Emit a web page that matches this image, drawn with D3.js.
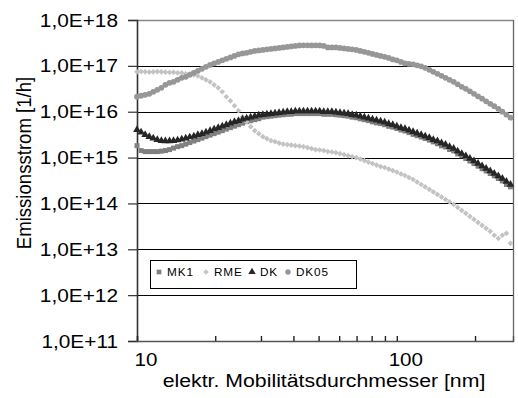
<!DOCTYPE html>
<html><head><meta charset="utf-8">
<script src="https://cdn.jsdelivr.net/npm/d3@7"></script>
<style>body{margin:0;background:#fff} svg{display:block}</style>
</head><body><svg id="c" width="518" height="398"></svg>
<script>
// Mobility diameters (nm)
const diameters = [10.00,10.37,10.75,11.15,11.55,11.97,12.41,12.86,13.34,13.82,14.33,14.86,15.40,15.96,16.55,17.15,17.78,18.43,19.11,19.81,
20.54,21.29,22.07,22.88,23.71,24.58,25.48,26.42,27.38,28.39,29.43,30.51,31.62,32.78,33.98,35.23,36.52,37.86,39.24,40.68,
42.17,43.71,45.32,46.98,48.70,50.48,52.33,54.25,56.23,58.29,60.43,62.65,64.94,67.32,69.78,72.34,74.99,77.74,80.58,83.54,
86.60,89.77,93.06,96.47,100.0,103.7,107.5,111.4,115.5,119.7,124.1,128.6,133.4,138.2,143.3,148.6,154.0,159.6,165.5,171.5,
177.8,184.3,191.1,198.1,205.4,212.9,220.7,228.8,237.1,245.8,254.8,264.2,273.8];

const mk1 = [1.82e15,1.42e15,1.35e15,1.35e15,1.35e15,1.35e15,1.38e15,1.42e15,1.49e15,1.61e15,1.73e15,1.82e15,1.96e15,2.12e15,2.29e15,2.46e15,2.65e15,2.86e15,3.08e15,3.32e15,
3.58e15,3.86e15,4.17e15,4.49e15,4.84e15,5.21e15,5.62e15,6.07e15,6.37e15,6.70e15,7.04e15,7.6e15,7.8e15,8.0e15,8.2e15,8.4e15,8.6e15,8.8e15,8.8e15,9.1e15,
9.1e15,9.1e15,9.1e15,9.1e15,9.1e15,9.1e15,8.8e15,8.8e15,8.8e15,8.6e15,8.4e15,8.2e15,8.0e15,7.6e15,7.4e15,7.0e15,6.7e15,6.4e15,6.0e15,5.7e15,
5.5e15,5.2e15,4.8e15,4.6e15,4.3e15,4.0e15,3.8e15,3.5e15,3.2e15,3.0e15,2.8e15,2.6e15,2.4e15,2.2e15,2.0e15,1.8e15,1.7e15,1.5e15,1.4e15,1.2e15,
1.1e15,9.5e14,8.4e14,7.4e14,6.5e14,5.7e14,5.1e14,4.5e14,4.0e14,3.5e14,3.1e14,2.6e14,2.3e14];

const rme = [7.41e16,7.5e16,7.4e16,7.3e16,7.4e16,7.5e16,7.4e16,7.3e16,7.22e16,7.22e16,7.04e16,7.04e16,6.70e16,6.70e16,6.37e16,6.07e16,5.48e16,4.96e16,4.49e16,3.86e16,
3.32e16,2.72e16,2.12e16,1.73e16,1.35e16,1.05e16,7.79e15,6.07e15,4.72e15,3.86e15,3.32e15,2.86e15,2.59e15,2.34e15,2.23e15,2.07e15,1.96e15,1.92e15,1.87e15,1.82e15,
1.78e15,1.73e15,1.65e15,1.57e15,1.49e15,1.46e15,1.42e15,1.35e15,1.32e15,1.28e15,1.22e15,1.16e15,1.10e15,1.05e15,1.00e15,9.27e14,8.61e14,7.98e14,7.41e14,6.87e14,
6.37e14,6.07e14,5.62e14,5.21e14,4.84e14,4.38e14,4.06e14,3.67e14,3.32e14,2.93e14,2.59e14,2.29e14,2.02e14,1.78e14,1.57e14,1.38e14,1.22e14,1.08e14,9.51e13,8.19e13,
7.04e13,6.07e13,5.21e13,4.49e13,3.86e13,3.32e13,2.86e13,2.46e13,2.02e13,1.73e13,2.02e13,2.23e13,1.35e13];

const dk = [4.06e15,3.58e15,3.16e15,2.86e15,2.65e15,2.46e15,2.34e15,2.29e15,2.29e15,2.34e15,2.40e15,2.52e15,2.65e15,2.79e15,2.93e15,3.16e15,3.32e15,3.58e15,3.86e15,4.17e15,
4.49e15,4.84e15,5.21e15,5.62e15,6.07e15,6.37e15,6.87e15,7.22e15,7.59e15,7.98e15,8.39e15,8.61e15,8.83e15,9.05e15,9.27e15,9.51e15,9.75e15,1.00e16,1.00e16,1.03e16,
1.03e16,1.03e16,1.03e16,1.03e16,1.03e16,1.03e16,1.00e16,1.00e16,1.00e16,9.75e15,9.51e15,9.27e15,9.05e15,8.61e15,8.39e15,7.98e15,7.59e15,7.22e15,6.87e15,6.53e15,
6.21e15,5.91e15,5.48e15,5.21e15,4.84e15,4.49e15,4.27e15,3.96e15,3.67e15,3.41e15,3.16e15,2.93e15,2.72e15,2.46e15,2.29e15,2.07e15,1.92e15,1.73e15,1.57e15,1.38e15,
1.22e15,1.08e15,9.51e14,8.39e14,7.41e14,6.53e14,5.77e14,5.09e14,4.49e14,3.96e14,3.49e14,3.01e14,2.59e14];

const dk05 = [2.12e16,2.23e16,2.34e16,2.46e16,2.72e16,3.01e16,3.32e16,3.86e16,4.27e16,4.49e16,4.96e16,5.48e16,5.77e16,6.37e16,7.04e16,7.79e16,8.61e16,9.51e16,1.05e17,1.13e17,
1.22e17,1.32e17,1.42e17,1.53e17,1.65e17,1.78e17,1.87e17,1.92e17,2.02e17,2.12e17,2.17e17,2.23e17,2.29e17,2.34e17,2.40e17,2.46e17,2.52e17,2.59e17,2.65e17,2.72e17,
2.78e17,2.80e17,2.80e17,2.79e17,2.80e17,2.78e17,2.72e17,2.52e17,2.52e17,2.52e17,2.46e17,2.40e17,2.34e17,2.29e17,2.23e17,2.12e17,2.02e17,1.92e17,1.82e17,1.73e17,
1.65e17,1.57e17,1.49e17,1.38e17,1.32e17,1.22e17,1.13e17,1.10e17,1.08e17,1.03e17,9.75e16,9.05e16,8.19e16,7.41e16,6.70e16,6.07e16,5.48e16,4.96e16,4.49e16,3.96e16,
3.49e16,3.16e16,2.79e16,2.46e16,2.17e16,1.92e16,1.69e16,1.49e16,1.32e16,1.16e16,1.00e16,8.61e15,7.41e15];

const seriesNames = ["MK1","RME","DK","DK05"];
const yTickValues = [1e11,1e12,1e13,1e14,1e15,1e16,1e17,1e18];
const yTickLabels = ["1,0E+11","1,0E+12","1,0E+13","1,0E+14","1,0E+15","1,0E+16","1,0E+17","1,0E+18"];
const xTickValues = [10,20,30,40,50,60,70,80,90,100,200];
const xLabelValues = [10,100];
const xLabelTexts = ["10","100"];
const yTitle = "Emissionsstrom [1/h]";
const xTitle = "elektr. Mobilitätsdurchmesser [nm]";

const FONT = "'Liberation Sans', Arial, sans-serif";
const SX = 1.12;
const L = 137, R = 513, T = 20, B = 341;
const svg = d3.select("#c");
const x = d3.scaleLog().domain([10, 280]).range([L, R]);
const y = d3.scaleLog().domain([1e11, 1e18]).range([B, T]);

// gridlines
svg.append("g").selectAll("line").data(yTickValues.filter(v => v > 1e11 && v < 1e18)).join("line")
  .attr("x1", L).attr("x2", R).attr("y1", d => Math.round(y(d)) + 0.5).attr("y2", d => Math.round(y(d)) + 0.5)
  .attr("stroke", "#000").attr("stroke-width", 1);
// frame top/right
svg.append("line").attr("x1", L).attr("x2", R + 0.5).attr("y1", T + 0.5).attr("y2", T + 0.5).attr("stroke", "#888").attr("stroke-width", 1.3);
svg.append("line").attr("x1", R + 0.5).attr("x2", R + 0.5).attr("y1", T).attr("y2", B + 1).attr("stroke", "#666").attr("stroke-width", 1.3);

// y axis
const ya = svg.append("g").attr("transform", `translate(${L},0)`)
  .call(d3.axisLeft(y).tickValues(yTickValues).tickSize(9).tickFormat(""));
ya.select(".domain").attr("stroke", "#333").attr("stroke-width", 1.6);
ya.selectAll(".tick line").attr("stroke", "#333").attr("stroke-width", 1.2);
svg.append("g").selectAll("text").data(yTickValues).join("text")
  .attr("transform", d => `translate(118,${y(d)}) scale(${SX},1)`)
  .attr("dy", "0.35em").attr("text-anchor", "end")
  .attr("font-family", FONT).attr("font-size", 18.6).attr("fill", "#000")
  .text((d, i) => yTickLabels[i]);

// x axis
const xa = svg.append("g").attr("transform", `translate(0,${B})`)
  .call(d3.axisBottom(x).tickValues(xTickValues).tickSize(-5).tickFormat(""));
xa.select(".domain").attr("stroke", "#555").attr("stroke-width", 1.4);
xa.selectAll(".tick line").attr("stroke", "#222").attr("stroke-width", 1.4);
svg.append("g").selectAll("text").data(xLabelValues).join("text")
  .attr("transform", d => `translate(${x(d) + 9},365.5) scale(${SX},1)`)
  .attr("text-anchor", "middle")
  .attr("font-family", FONT).attr("font-size", 18.4).attr("fill", "#000")
  .text((d, i) => xLabelTexts[i]);

// titles
svg.append("text").attr("transform", `translate(31,163) scale(${SX},1) rotate(-90)`)
  .attr("text-anchor", "middle").attr("font-family", FONT).attr("font-size", 18.6).text(yTitle);
svg.append("text").attr("transform", `translate(324,386.5) scale(1.12,1)`)
  .attr("text-anchor", "middle").attr("font-family", FONT).attr("font-size", 19).text(xTitle);

// series
const styles = {
  MK1:  {sym: d3.symbolSquare, size: 25, rot: 0, fill: "#808080"},
  RME:  {sym: d3.symbolSquare, size: 16, rot: 45, fill: "#c3c3c3"},
  DK:   {sym: d3.symbolTriangle, size: 26, rot: 0, fill: "#262626"},
  DK05: {sym: d3.symbolCircle, size: 26, rot: 0, fill: "#979797"}
};
const seriesData = {MK1: mk1, RME: rme, DK: dk, DK05: dk05};
const plot = svg.append("g");
seriesNames.forEach(name => {
  const st = styles[name];
  const path = d3.symbol().type(st.sym).size(st.size)();
  plot.append("g").selectAll("path").data(seriesData[name]).join("path")
    .attr("d", path)
    .attr("transform", (v, i) => `translate(${x(diameters[i])},${y(v)}) rotate(${st.rot})`)
    .attr("fill", st.fill);
});

// legend
const lg = svg.append("g");
lg.append("rect").attr("x", 150.5).attr("y", 260.5).attr("width", 206).attr("height", 28)
  .attr("fill", "#fff").attr("stroke", "#000").attr("stroke-width", 1);
const legendX = [159, 206, 252, 288];
seriesNames.forEach((name, i) => {
  const st = styles[name];
  lg.append("path").attr("d", d3.symbol().type(st.sym).size(st.size * 0.9)())
    .attr("transform", `translate(${legendX[i]},272) rotate(${st.rot})`).attr("fill", st.fill);
  lg.append("text").attr("transform", `translate(${legendX[i] + 8},276) scale(${SX},1)`)
    .attr("font-family", FONT).attr("font-size", 10.5).attr("letter-spacing", 0.8).attr("fill", "#000").text(name);
});
</script></body></html>
